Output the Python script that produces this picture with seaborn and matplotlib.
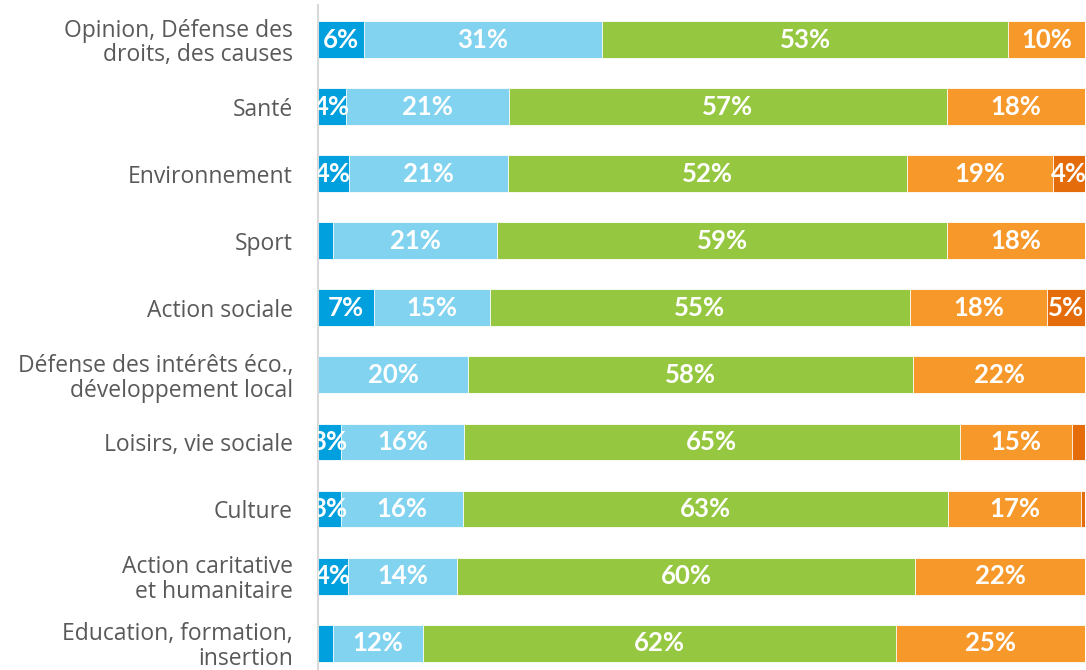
import matplotlib
matplotlib.use("Agg")
import matplotlib.pyplot as plt
import seaborn as sns
import pandas as pd
import numpy as np

categories = [
    "Opinion, Défense des\ndroits, des causes",
    "Santé",
    "Environnement",
    "Sport",
    "Action sociale",
    "Défense des intérêts éco.,\ndéveloppement local",
    "Loisirs, vie sociale",
    "Culture",
    "Action caritative\net humanitaire",
    "Education, formation,\ninsertion",
]
seg1 = [6.0, 3.6, 4.0, 2.0, 7.3, 0.0, 3.0, 3.0, 3.9, 2.0]
seg2 = [31.0, 21.3, 20.8, 21.4, 15.1, 19.6, 16.0, 15.9, 14.2, 11.7]
seg3 = [53.0, 57.1, 52.0, 58.6, 54.8, 58.0, 64.7, 63.2, 59.8, 61.6]
seg4 = [10.0, 18.0, 19.0, 18.0, 17.8, 22.4, 14.6, 17.4, 22.1, 24.7]
seg5 = [0.0, 0.0, 4.2, 0.0, 5.0, 0.0, 1.7, 0.5, 0.0, 0.0]

colors = ["#009FDD", "#82D3EF", "#95C840", "#F7992A", "#E46C0A"]

sns.set_theme(style="white")
plt.rcParams["font.family"] = ["Open Sans", "DejaVu Sans"]

segs = [seg1, seg2, seg3, seg4, seg5]
cum = np.cumsum(np.array(segs), axis=0)

fig = plt.figure(figsize=(10.86, 6.70), dpi=100)
ax = fig.add_axes([318 / 1086, 0.0, (1085 - 318) / 1086, 1 - 5 / 670])

for i in range(len(segs) - 1, -1, -1):
    df = pd.DataFrame({"cat": categories, "val": cum[i]})
    sns.barplot(data=df, x="val", y="cat", orient="h", color=colors[i],
                width=0.55, ax=ax, saturation=1, edgecolor="white",
                linewidth=0.6)

for i, s in enumerate(segs):
    for j, v in enumerate(s):
        if v >= 2.5:
            ax.text(cum[i][j] - v / 2, j, f"{round(v)}%", ha="center",
                    va="center", color="white", fontsize=18.5,
                    fontweight="bold", family=["Lato", "DejaVu Sans"],
                    clip_on=True)

ax.set_xlim(0, 100)
ax.set_ylim(9.40, -0.515)
ax.set_xlabel("")
ax.set_ylabel("")
ax.set_xticks([])
for sp in ["top", "right", "bottom"]:
    ax.spines[sp].set_visible(False)
ax.spines["left"].set_color("#D9D9D9")
ax.spines["left"].set_linewidth(1.5)
ax.tick_params(axis="y", length=0, pad=18, labelsize=16.5, labelcolor="#595959")
for lbl in ax.get_yticklabels():
    lbl.set_horizontalalignment("right")
    lbl.set_multialignment("right")
    lbl.set_linespacing(1.05)

fig.savefig("out.png", dpi=100)
